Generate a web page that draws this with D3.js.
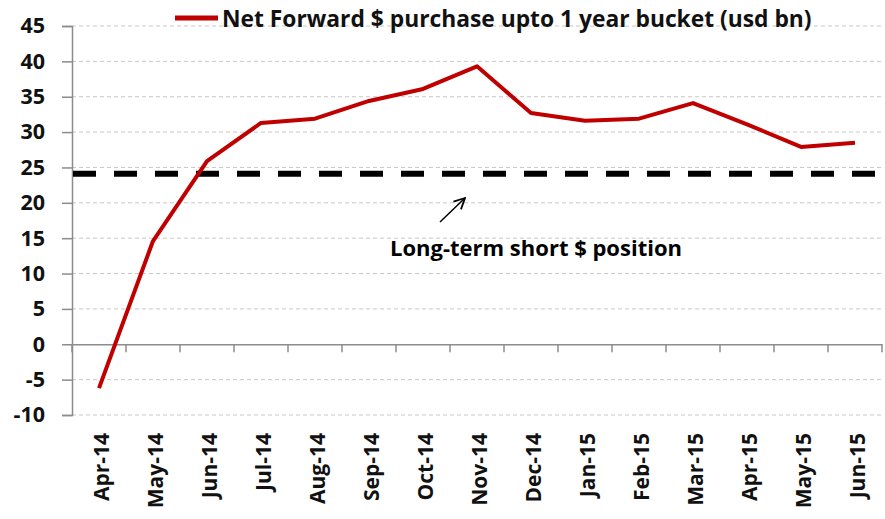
<!DOCTYPE html>
<html>
<head>
<meta charset="utf-8">
<script src="https://cdn.jsdelivr.net/npm/d3@7"></script>
<style>
  html, body { margin: 0; padding: 0; background: #fff; }
  svg { display: block; font-family: "Open Sans", "Liberation Sans", Arial, sans-serif; }
</style>
</head>
<body>
<svg id="chart" width="885" height="519"></svg>
<script>
/* ── Data ─────────────────────────────────────────────────────────── */
const months = ['Apr-14','May-14','Jun-14','Jul-14','Aug-14','Sep-14','Oct-14','Nov-14',
                'Dec-14','Jan-15','Feb-15','Mar-15','Apr-15','May-15','Jun-15'];
const netForward = [-6.2, 14.6, 25.9, 31.3, 31.9, 34.4, 36.1, 39.3,
                    32.7, 31.6, 31.9, 34.1, 31.1, 27.9, 28.5];
const yTicks = [-10, -5, 0, 5, 10, 15, 20, 25, 30, 35, 40, 45];
const longTermLevel = 24.1;
const seriesName = 'Net Forward $ purchase upto 1 year bucket (usd bn)';
const noteText   = 'Long-term short $ position';

/* ── Layout ───────────────────────────────────────────────────────── */
const L = 72, R = 882, T = 26, B = 415;
const RED = '#c00000';
const INK = '#111';

const svg = d3.select('#chart');

const x = d3.scaleBand().domain(months).range([L, R]);
const y = d3.scaleLinear().domain([-10, 45]).range([B, T]);

/* gridlines */
svg.append('g')
  .selectAll('line')
  .data(yTicks.filter(v => v !== 0))
  .join('line')
  .attr('x1', L).attr('x2', R)
  .attr('y1', d => y(d)).attr('y2', d => y(d))
  .attr('stroke', '#c8c8c8')
  .attr('stroke-width', 1)
  .attr('stroke-dasharray', '4,3');

/* y axis (plain hyphen for negatives, as in the source) */
const yAx = svg.append('g')
  .attr('transform', `translate(${L},0)`)
  .call(d3.axisLeft(y).tickValues(yTicks).tickFormat(d => String(d))
          .tickSize(10).tickPadding(17));
yAx.select('.domain').attr('stroke', '#8c8c8c').attr('stroke-width', 1.5);
yAx.selectAll('.tick line').attr('stroke', '#8c8c8c').attr('stroke-width', 1.5);
yAx.selectAll('.tick text')
  .attr('font-size', 21.5).attr('font-weight', 700).attr('fill', INK)
  .attr('font-family', '"Open Sans", sans-serif');

/* x axis at zero */
const xAx = svg.append('g')
  .attr('transform', `translate(0,${y(0)})`)
  .call(d3.axisBottom(x).tickSize(0).tickFormat(''));
xAx.select('.domain').attr('stroke', '#8c8c8c').attr('stroke-width', 1.5);
svg.append('g')
  .selectAll('line')
  .data(months.concat(['__end']))
  .join('line')
  .attr('x1', (d, i) => i < months.length ? x(d) : R)
  .attr('x2', (d, i) => i < months.length ? x(d) : R)
  .attr('y1', y(0)).attr('y2', y(0) + 8)
  .attr('stroke', '#8c8c8c').attr('stroke-width', 1.5);

/* category labels, rotated */
svg.append('g')
  .selectAll('text')
  .data(months)
  .join('text')
  .attr('transform', d => `translate(${x(d) + x.bandwidth() / 2 + 10},433) rotate(-90)`)
  .attr('text-anchor', 'end')
  .attr('font-size', 21).attr('font-weight', 700).attr('fill', INK)
  .text(d => d);

/* long-term dashed reference */
svg.append('line')
  .attr('x1', L + 1).attr('x2', R - 4)
  .attr('y1', y(longTermLevel)).attr('y2', y(longTermLevel))
  .attr('stroke', '#000').attr('stroke-width', 6)
  .attr('stroke-dasharray', '23,18');

/* series line */
const line = d3.line()
  .x((d, i) => x(months[i]) + x.bandwidth() / 2)
  .y(d => y(d));
svg.append('path')
  .datum(netForward)
  .attr('d', line)
  .attr('fill', 'none')
  .attr('stroke', RED)
  .attr('stroke-width', 4)
  .attr('stroke-linejoin', 'round');

/* legend */
svg.append('line')
  .attr('x1', 175).attr('x2', 218).attr('y1', 18).attr('y2', 18)
  .attr('stroke', RED).attr('stroke-width', 5);
svg.append('text')
  .attr('x', 222).attr('y', 27)
  .attr('font-size', 22.8).attr('font-weight', 700).attr('fill', INK)
  .text(seriesName);

/* annotation */
svg.append('defs').append('marker')
  .attr('id', 'ah').attr('viewBox', '0 0 10 10')
  .attr('refX', 9).attr('refY', 5)
  .attr('markerWidth', 9).attr('markerHeight', 9)
  .attr('orient', 'auto')
  .append('path').attr('d', 'M1,1 L9,5 L1,9').attr('fill', 'none')
  .attr('stroke', '#000').attr('stroke-width', 1.3);
svg.append('line')
  .attr('x1', 440).attr('y1', 222).attr('x2', 465).attr('y2', 198)
  .attr('stroke', '#000').attr('stroke-width', 1.5)
  .attr('marker-end', 'url(#ah)');
svg.append('text')
  .attr('x', 536).attr('y', 256)
  .attr('text-anchor', 'middle')
  .attr('font-size', 22).attr('font-weight', 700).attr('fill', '#000')
  .text(noteText);
</script>
</body>
</html>
